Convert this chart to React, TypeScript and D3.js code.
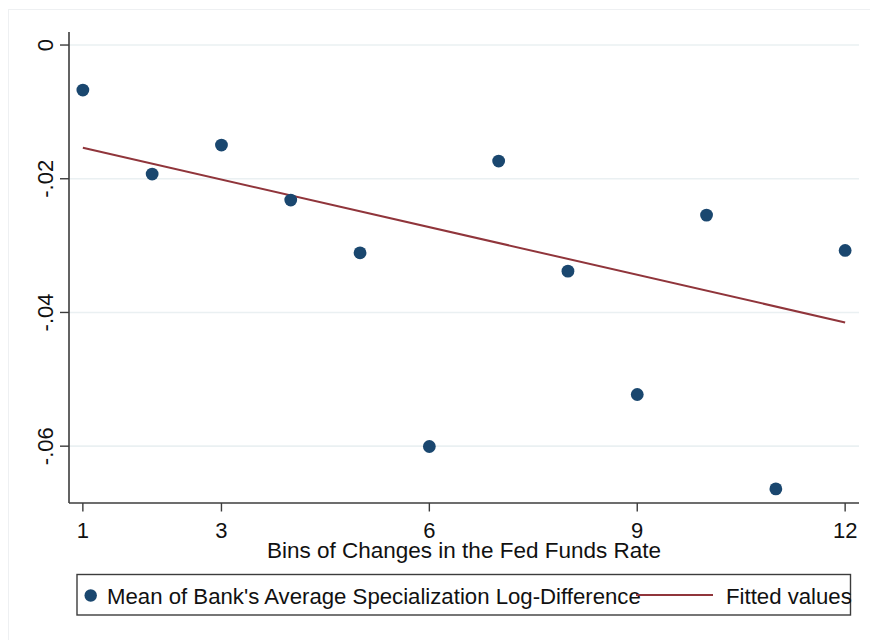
import React from "react";
import * as d3 from "d3";

// bins on the x axis and the mean log-difference
const bins = [1, 2, 3, 4, 5, 6, 7, 8, 9, 10, 11, 12];
const meanLogDiff = [
  -0.00673, -0.0193, -0.01496, -0.02319, -0.03108, -0.06005,
  -0.01736, -0.03382, -0.05227, -0.02544, -0.06639, -0.03072,
];
// fitted line end points
const fitBins = [1, 12];
const fitValues = [-0.01537, -0.04149];

const xTicks = [1, 3, 6, 9, 12];
const yTicks = [0, -0.02, -0.04, -0.06];
const yTickLabels = ["0", "-.02", "-.04", "-.06"];

const xTitle = "Bins of Changes in the Fed Funds Rate";
const seriesLabels = ["Mean of Bank's Average Specialization Log-Difference", "Fitted values"];

const W = 870;
const H = 640;
const font = "'Liberation Sans', Arial, sans-serif";
const navy = "#1a476f";
const maroon = "#90353b";
const axisColor = "#3c3c3c";
const gridColor = "#eaf0f2";

export default function App() {
  const plot = { left: 69, right: 859, top: 32, bottom: 503 };

  const x = d3.scaleLinear().domain([0.8, 12.2]).range([plot.left, plot.right]);
  const y = d3.scaleLinear().domain([-0.0685, 0.00195]).range([plot.bottom, plot.top]);

  const fitLine = d3
    .line<number>()
    .x((d, i) => x(fitBins[i]))
    .y((d) => y(d));

  return (
    <svg
      width={W}
      height={H}
      style={{ position: "fixed", left: 0, top: 0, background: "#fff" }}
      fontFamily={font}
    >
      <rect x={0} y={0} width={W} height={H} fill="#fff" />
      {/* faint outer frame */}
      <rect x={8.5} y={9.5} width={W} height={H} fill="none" stroke="#eef0f2" strokeWidth={1} />

      {/* grid lines */}
      {yTicks.map((t) => (
        <line
          key={"g" + t}
          x1={plot.left}
          x2={plot.right}
          y1={y(t)}
          y2={y(t)}
          stroke={gridColor}
          strokeWidth={1.6}
        />
      ))}

      {/* y axis */}
      <line x1={plot.left} x2={plot.left} y1={plot.top} y2={plot.bottom} stroke={axisColor} strokeWidth={1.6} />
      {yTicks.map((t, i) => (
        <g key={"y" + t} transform={`translate(${plot.left},${y(t)})`}>
          <line x1={-9} x2={0} stroke={axisColor} strokeWidth={1.4} />
          <text
            transform="translate(-16.5,0) rotate(-90)"
            textAnchor="middle"
            fontSize={22}
            fill="#111"
          >
            {yTickLabels[i]}
          </text>
        </g>
      ))}

      {/* x axis */}
      <line x1={plot.left} x2={plot.right} y1={plot.bottom} y2={plot.bottom} stroke={axisColor} strokeWidth={1.6} />
      {xTicks.map((t) => (
        <g key={"x" + t} transform={`translate(${x(t)},${plot.bottom})`}>
          <line y1={0} y2={8.5} stroke={axisColor} strokeWidth={1.4} />
          <text y={35} textAnchor="middle" fontSize={22} fill="#111">
            {t}
          </text>
        </g>
      ))}
      <text x={(plot.left + plot.right) / 2} y={558} textAnchor="middle" fontSize={22.5} fill="#111">
        {xTitle}
      </text>

      {/* fitted line */}
      <path d={fitLine(fitValues) || ""} fill="none" stroke={maroon} strokeWidth={2} />

      {/* scatter */}
      {bins.map((b, i) => (
        <circle key={"p" + b} cx={x(b)} cy={y(meanLogDiff[i])} r={6.4} fill={navy} />
      ))}

      {/* legend */}
      <rect x={77} y={574.5} width={773.5} height={40.5} fill="#fff" stroke={axisColor} strokeWidth={1.4} />
      <circle cx={90.7} cy={595.5} r={6.2} fill={navy} />
      <text x={107} y={603.5} fontSize={22.2} fill="#111">
        {seriesLabels[0]}
      </text>
      <line x1={636} x2={713} y1={595} y2={595} stroke={maroon} strokeWidth={2} />
      <text x={726} y={603.5} fontSize={22.2} fill="#111">
        {seriesLabels[1]}
      </text>
    </svg>
  );
}
